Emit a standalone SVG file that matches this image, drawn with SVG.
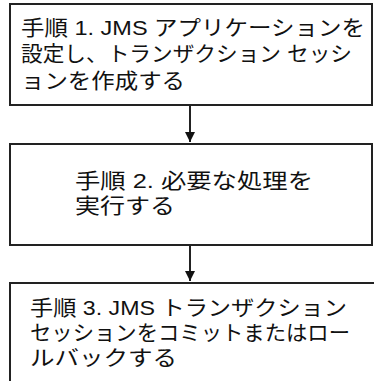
<svg xmlns="http://www.w3.org/2000/svg" width="374" height="381" viewBox="0 0 374 381">
<style>
.box{fill:#ffffff;stroke:#222222;stroke-width:2}
.t{font-family:"Liberation Sans","Noto Sans CJK JP",sans-serif;font-size:21px;fill:#111111}
.c{stroke:#222222;stroke-width:2;fill:none}
</style>
<defs>
<marker id="ah" markerWidth="10" markerHeight="10" refX="10" refY="5" orient="auto" markerUnits="userSpaceOnUse">
<path d="M0,0 L10,5 L0,10 Z" fill="#111111"/>
</marker>
</defs>
<rect width="374" height="381" fill="#ffffff"/>
<g id="connectors">
<line class="c" x1="190" y1="106" x2="190" y2="142" marker-end="url(#ah)"/>
<line class="c" x1="190" y1="245" x2="190" y2="281" marker-end="url(#ah)"/>
</g>
<g id="step1">
<rect class="box" x="10" y="4" width="362" height="101"/>
<text class="t" x="21" y="35" textLength="344" lengthAdjust="spacingAndGlyphs">手順 1. JMS アプリケーションを</text>
<text class="t" x="21" y="61" textLength="331" lengthAdjust="spacingAndGlyphs">設定し、トランザクション セッシ</text>
<text class="t" x="21" y="88" textLength="164" lengthAdjust="spacingAndGlyphs">ョンを作成する</text>
</g>
<g id="step2">
<rect class="box" x="10" y="144" width="362" height="101"/>
<text class="t" x="75" y="188" textLength="238" lengthAdjust="spacingAndGlyphs">手順 2. 必要な処理を</text>
<text class="t" x="75" y="213" textLength="100" lengthAdjust="spacingAndGlyphs">実行する</text>
</g>
<g id="step3">
<rect class="box" x="10" y="283" width="380" height="110"/>
<text class="t" x="30" y="315" textLength="317" lengthAdjust="spacingAndGlyphs">手順 3. JMS トランザクション</text>
<text class="t" x="30" y="340" textLength="320" lengthAdjust="spacingAndGlyphs">セッションをコミットまたはロー</text>
<text class="t" x="30" y="365" textLength="147" lengthAdjust="spacingAndGlyphs">ルバックする</text>
</g>
</svg>
